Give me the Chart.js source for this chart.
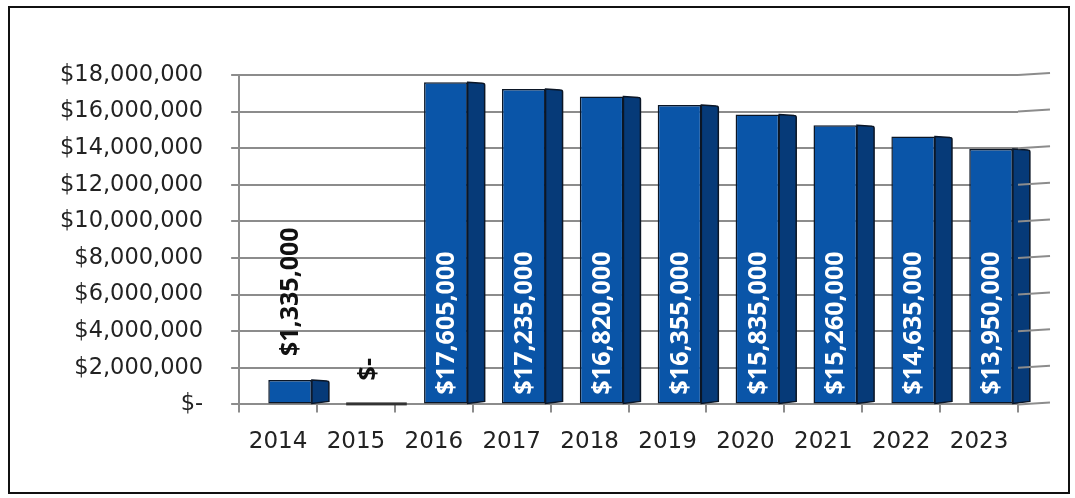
<!DOCTYPE html>
<html>
<head>
<meta charset="utf-8">
<script src="https://cdn.jsdelivr.net/npm/chart.js@4.4.1/dist/chart.umd.min.js"></script>
<style>
  html, body { margin: 0; padding: 0; background: #fff; }
  #wrap { position: absolute; left: 0; top: 0; width: 1075px; height: 498px; }
  #frame {
    position: absolute; left: 8px; top: 6px; width: 1062px; height: 488px;
    border: 2px solid #111; box-sizing: border-box; pointer-events: none;
  }
</style>
</head>
<body>
<div id="wrap">
  <canvas id="fundChart" width="1075" height="498"></canvas>
  <div id="frame"></div>
</div>
<script>
// chart data
const years = ['2014', '2015', '2016', '2017', '2018', '2019', '2020', '2021', '2022', '2023'];
const amounts = [1335000, 0, 17605000, 17235000, 16820000, 16355000, 15835000, 15260000, 14635000, 13950000];
const yTicks = [0, 2000000, 4000000, 6000000, 8000000, 10000000, 12000000, 14000000, 16000000, 18000000];

const FRONT = '#0a55a8';
const SIDE = '#063a78';
const EDGE = '#0b1626';
const SHIFT = 12;   // bars sit a bit right of category centre (3D look)
const DEPTH = 17;   // width of side face

function money(v) {
  if (v === 0) return '$-';
  return '$' + v.toLocaleString('en-US');
}

/* ─────────────────────────────────────────────
   3D-ish bars: shift front face, add side face
───────────────────────────────────────────── */
const bars3d = {
  id: 'bars3d',
  beforeDatasetsDraw(chart) {
    chart.ctx.save();
    chart.ctx.translate(SHIFT, 0);
  },
  afterDatasetsDraw(chart) {
    const ctx = chart.ctx;
    const meta = chart.getDatasetMeta(0);
    meta.data.forEach((bar, i) => {
      const p = bar.getProps(['x', 'y', 'base', 'width'], true);
      const right = p.x + p.width / 2;
      if (amounts[i] === 0) {
        // flat slab for zero value
        ctx.fillStyle = '#333';
        ctx.fillRect(p.x - p.width / 2, p.base - 2, p.width + DEPTH, 3);
        return;
      }
      ctx.fillStyle = SIDE;
      ctx.strokeStyle = EDGE;
      ctx.lineWidth = 1.5;
      ctx.beginPath();
      ctx.moveTo(right, p.y);
      ctx.lineTo(right + DEPTH - 2, p.y + 1);
      ctx.quadraticCurveTo(right + DEPTH, p.y + 1, right + DEPTH, p.y + 3);
      ctx.lineTo(right + DEPTH, p.base - 2);
      ctx.lineTo(right, p.base);
      ctx.closePath();
      ctx.fill();
      ctx.stroke();
    });
    ctx.restore();
  },
  afterDraw(chart) {
    // value labels, rotated
    const ctx = chart.ctx;
    const meta = chart.getDatasetMeta(0);
    ctx.save();
    ctx.font = 'bold 25px "Open Sans"';
    ctx.textBaseline = 'middle';
    meta.data.forEach((bar, i) => {
      const p = bar.getProps(['x', 'y', 'base', 'height'], true);
      const cx = p.x + SHIFT;
      const txt = money(amounts[i]);
      const w = ctx.measureText(txt).width;
      let startY, color;
      if (p.base - p.y > w + 30) {
        startY = p.base - 9;
        color = '#ffffff';
      } else {
        startY = p.y - 24;
        color = '#111111';
      }
      ctx.save();
      ctx.translate(cx, startY);
      ctx.rotate(-Math.PI / 2);
      ctx.fillStyle = color;
      ctx.textAlign = 'left';
      ctx.fillText(txt, 0, 1);
      ctx.restore();
    });
    // gridlines run a little past the last category (depth)
    const ys = chart.scales.y;
    ctx.strokeStyle = '#8c8c8c';
    ctx.lineWidth = 2;
    ys.ticks.forEach(t => {
      const y = ys.getPixelForValue(t.value);
      ctx.beginPath();
      ctx.moveTo(chart.chartArea.right, y);
      ctx.lineTo(chart.chartArea.right + 32, y - 2);
      ctx.stroke();
    });
    ctx.restore();
  }
};

new Chart(document.getElementById('fundChart'), {
  type: 'bar',
  data: {
    labels: years,
    datasets: [{
      data: amounts,
      backgroundColor: FRONT,
      borderColor: EDGE,
      borderWidth: 1.5,
      borderSkipped: false,
      categoryPercentage: 1,
      barPercentage: 0.56
    }]
  },
  options: {
    responsive: false,
    animation: false,
    layout: { padding: { left: 32, right: 57, top: 75, bottom: 26 } },
    plugins: { legend: { display: false }, tooltip: { enabled: false } },
    scales: {
      x: {
        grid: {
          offset: true,
          drawOnChartArea: false,
          drawTicks: true,
          tickLength: 8,
          color: '#8c8c8c',
          lineWidth: 2
        },
        border: { display: true, color: '#8c8c8c', width: 2 },
        ticks: {
          color: '#222',
          font: { family: 'DejaVu Sans', size: 23 },
          padding: 16,
          maxRotation: 0
        }
      },
      y: {
        min: 0,
        max: 18000000,
        afterBuildTicks(axis) {
          axis.ticks = yTicks.map(v => ({ value: v }));
        },
        grid: {
          color: '#8c8c8c',
          lineWidth: 2,
          tickLength: 8
        },
        border: { display: true, color: '#8c8c8c', width: 2 },
        ticks: {
          color: '#222',
          font: { family: 'DejaVu Sans', size: 22.5 },
          padding: 28,
          callback: v => money(v)
        }
      }
    }
  },
  plugins: [bars3d]
});
</script>
</body>
</html>
